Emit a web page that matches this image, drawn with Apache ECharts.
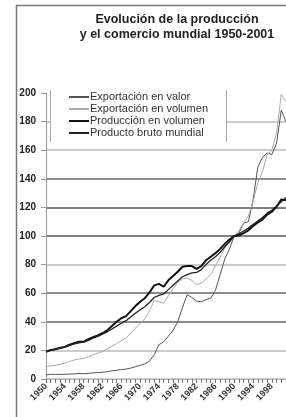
<!DOCTYPE html>
<html>
<head>
<meta charset="utf-8">
<script src="https://cdn.jsdelivr.net/npm/echarts@6/dist/echarts.min.js"></script>
<style>
  html, body { margin: 0; padding: 0; background: #fff; }
  #chart { width: 286px; height: 417px; }
</style>
</head>
<body>
<div id="chart"></div>
<script>
// datos (indice 1990 = 100)
var years = ['1950','1951','1952','1953','1954','1955','1956','1957','1958','1959',
             '1960','1961','1962','1963','1964','1965','1966','1967','1968','1969',
             '1970','1971','1972','1973','1974','1975','1976','1977','1978','1979',
             '1980','1981','1982','1983','1984','1985','1986','1987','1988','1989',
             '1990','1991','1992','1993','1994','1995','1996','1997','1998','1999',
             '2000','2001'];

var expValor = [2.8, 3.3, 3.2, 3.2, 3.3, 3.4, 3.6, 3.8, 3.7, 3.9,
                4.3, 4.5, 4.7, 5.1, 5.7, 6.1, 6.6, 6.9, 7.6, 8.6,
                9.5, 10.6, 12.5, 17, 24, 26, 30, 34, 40, 50,
                59, 57, 54.5, 54, 55.5, 56.5, 62, 73, 84, 91,
                100, 102, 109, 110, 125, 148, 155, 158, 157, 165,
                188, 180];

var expVolumen = [8.5, 9.2, 9.5, 10.3, 11, 12.2, 13.3, 14, 14.3, 15.5,
                  17, 18, 19.3, 21, 23, 24.8, 26.8, 28.5, 32, 35.5,
                  39, 42, 48, 55, 54, 53, 58, 63, 67.5, 70,
                  70.5, 69, 66, 67, 70, 73, 79, 85, 92, 96,
                  100, 104, 109, 114, 124, 137, 145, 157, 160, 172,
                  199, 194];

var prodVolumen = [19, 20.3, 20.8, 21.8, 22.4, 24, 25, 26, 26, 27.8,
                   29.3, 30.5, 32, 34, 37, 40, 42.5, 44, 47.5, 51,
                   54, 56.5, 60.5, 65.5, 66.5, 64.5, 69, 72, 75, 78.5,
                   79, 79, 77, 79, 83, 85.5, 88, 91, 94.5, 97.5,
                   100, 100.5, 102, 104, 107, 109.5, 111.5, 115, 117, 120.5,
                   125.5, 125];

var pib = [19.3, 20, 20.8, 21.6, 22.3, 23.5, 24.5, 25.3, 25.8, 27,
           28.5, 29.8, 31.3, 33, 35, 37, 39, 40.8, 43.3, 46,
           48.5, 50.5, 53.5, 57, 58.5, 59.5, 62.5, 65.5, 68.5, 71.5,
           73, 74.2, 74.5, 76.5, 80, 83, 85.5, 88.5, 92.5, 96,
           100, 101.5, 103.5, 105.5, 108, 110.5, 113, 116, 118, 121,
           124, 127];

var myChart = echarts.init(document.getElementById('chart'));

var option = {
    backgroundColor: '#fff',
    animation: false,
    title: {
        text: 'Evolución de la producción\ny el comercio mundial 1950-2001',
        left: 172,
        top: 7,
        textAlign: 'center',
        textStyle: {
            fontFamily: 'Liberation Sans',
            fontSize: 12.5,
            fontWeight: 'bold',
            color: '#222',
            lineHeight: 15
        }
    },
    legend: {
        orient: 'vertical',
        left: 68,
        top: 91,
        itemWidth: 20,
        itemHeight: 12,
        itemGap: 0,
        padding: 0,
        itemStyle: {color: 'rgba(0,0,0,0)', borderWidth: 0, opacity: 0},
        textStyle: {
            fontFamily: 'Liberation Sans',
            fontSize: 11,
            lineHeight: 12,
            color: '#333',
            padding: [0, 0, 0, -4]
        },
        data: ['Exportación en valor', 'Exportación en volumen',
               'Producción en volumen', 'Producto bruto mundial']
    },
    graphic: [
        // marco de la figura
        {type: 'line', z: 5, shape: {x1: 16.5, y1: 5, x2: 16.5, y2: 417}, style: {stroke: '#777', lineWidth: 1.5}},
        {type: 'line', z: 5, shape: {x1: 16, y1: 5.5, x2: 286, y2: 5.5}, style: {stroke: '#777', lineWidth: 1.5}},
        // fondo de la leyenda
        {type: 'rect', z: 3, shape: {x: 50, y: 90, width: 176, height: 52}, style: {fill: '#fff'}},
        {type: 'line', z: 3, shape: {x1: 50.5, y1: 90, x2: 50.5, y2: 142}, style: {stroke: '#aaa', lineWidth: 1}},
        {type: 'line', z: 3, shape: {x1: 226.5, y1: 90, x2: 226.5, y2: 142}, style: {stroke: '#aaa', lineWidth: 1}}
    ],
    grid: {left: 46, right: -7, top: 93, bottom: 38},
    xAxis: {
        type: 'category',
        data: years,
        boundaryGap: false,
        axisLine: {lineStyle: {color: '#bbb', width: 1}},
        axisTick: {show: true, interval: 0, length: 4, lineStyle: {color: '#777'}},
        axisLabel: {
            interval: 3,
            rotate: 45,
            margin: 6,
            fontFamily: 'Liberation Sans',
            fontSize: 9,
            fontWeight: 'bold',
            color: '#333'
        },
        splitLine: {show: false}
    },
    yAxis: {
        type: 'value',
        min: 0,
        max: 200,
        interval: 20,
        axisLine: {show: true, lineStyle: {color: '#999'}},
        axisTick: {show: true, length: 5, lineStyle: {color: '#999'}},
        axisLabel: {
            margin: 10,
            fontFamily: 'Liberation Sans',
            fontSize: 10,
            fontWeight: 'bold',
            color: '#222'
        },
        splitLine: {
            lineStyle: {
                width: 1.5,
                color: ['#bbb', '#bbb', '#666', '#666', '#bbb', '#555', '#555', '#666', '#bbb', '#bbb', 'rgba(0,0,0,0)']
            }
        }
    },
    series: [
        {
            name: 'Exportación en valor',
            type: 'line',
            data: expValor,
            symbol: 'none',
            z: 2,
            lineStyle: {color: '#555', width: 1},
            itemStyle: {color: '#555'}
        },
        {
            name: 'Exportación en volumen',
            type: 'line',
            data: expVolumen,
            symbol: 'none',
            z: 2,
            lineStyle: {color: '#aaa', width: 1},
            itemStyle: {color: '#aaa'}
        },
        {
            name: 'Producción en volumen',
            type: 'line',
            data: prodVolumen,
            symbol: 'none',
            z: 2,
            lineStyle: {color: '#111', width: 2},
            itemStyle: {color: '#111'}
        },
        {
            name: 'Producto bruto mundial',
            type: 'line',
            data: pib,
            symbol: 'none',
            z: 2,
            lineStyle: {color: '#222', width: 1.3},
            itemStyle: {color: '#222'}
        }
    ]
};

myChart.setOption(option);

window.onresize = function () {
    myChart.resize();
};
</script>
</body>
</html>
